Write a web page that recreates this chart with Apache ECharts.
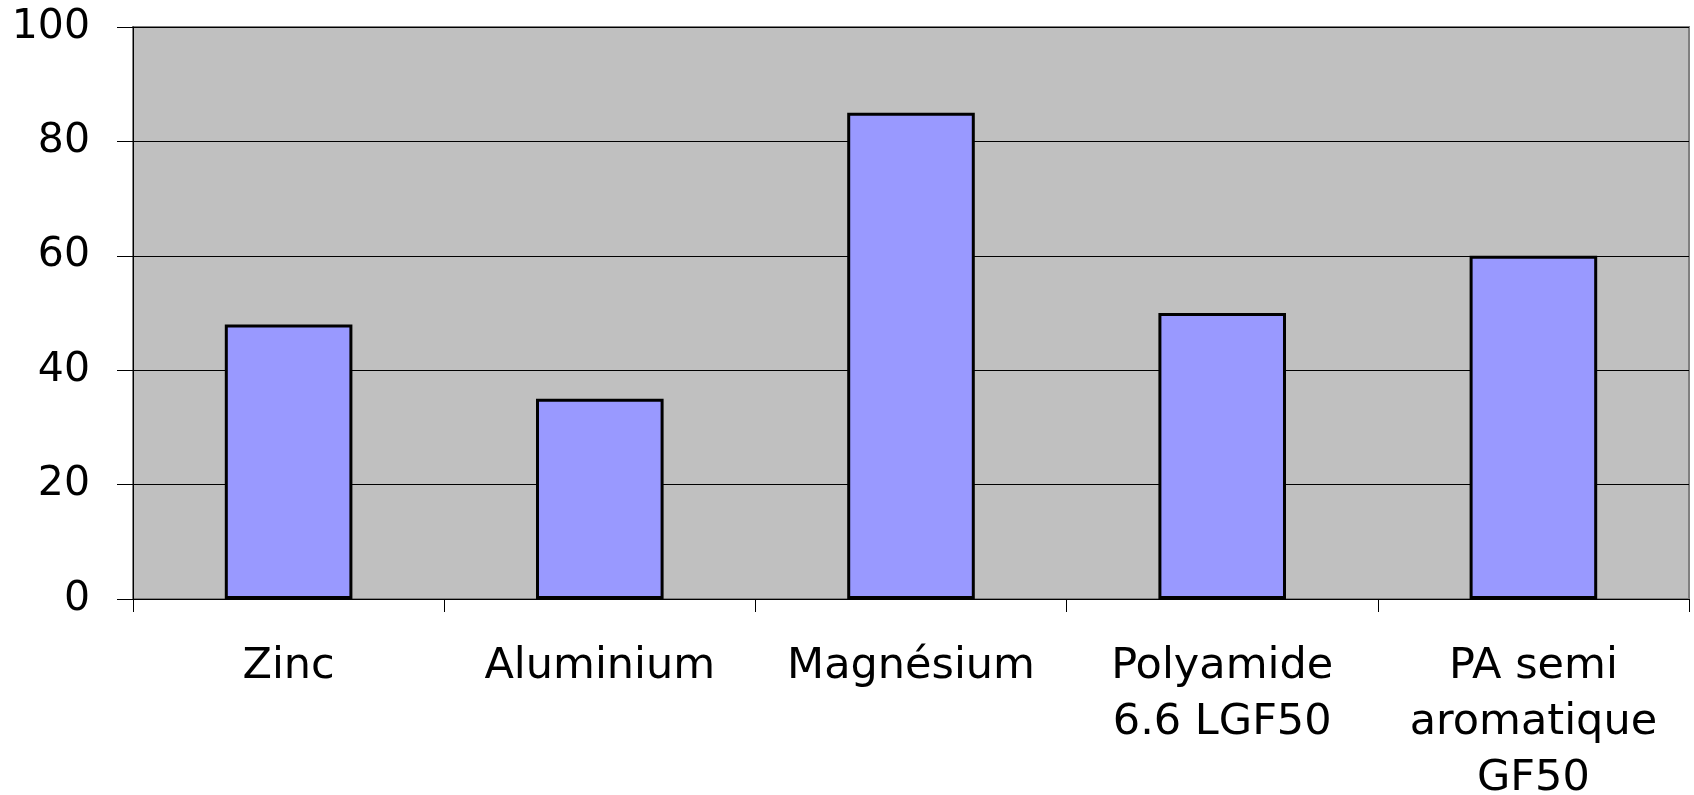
<!DOCTYPE html>
<html>
<head>
<meta charset="utf-8">
<script src="https://cdn.jsdelivr.net/npm/echarts@6/dist/echarts.min.js"></script>
<style>
    html, body { margin: 0; padding: 0; background: #fff; }
    #chart { width: 1694px; height: 795px; }
</style>
</head>
<body>
<div id="chart"></div>
<script>
// Chart data
const categories = ['Zinc', 'Aluminium', 'Magnésium', 'Polyamide\n6.6 LGF50', 'PA semi\naromatique\nGF50'];
const values = [48, 35, 85, 50, 60];
const yTicks = [0, 20, 40, 60, 80, 100];

const chart = echarts.init(document.getElementById('chart'));

const options = {
    animation: false,
    grid: {
        left: 133,
        right: 5,
        top: 27,
        bottom: 196,
        outerBoundsMode: 'none',
        containLabel: false,
        show: true,
        backgroundColor: '#C0C0C0',
        borderColor: '#808080',
        borderWidth: 2
    },
    xAxis: {
        type: 'category',
        data: categories,
        axisLine: { lineStyle: { color: '#000', width: 1 } },
        axisTick: {
            show: true,
            length: 13,
            lineStyle: { color: '#000', width: 1 }
        },
        axisLabel: {
            interval: 0,
            margin: 40,
            color: '#000',
            fontFamily: 'DejaVu Sans',
            fontSize: 43,
            lineHeight: 56
        }
    },
    yAxis: {
        type: 'value',
        min: yTicks[0],
        max: yTicks[yTicks.length - 1],
        interval: 20,
        axisLine: { show: true, lineStyle: { color: '#000', width: 1 } },
        axisTick: {
            show: true,
            length: 16,
            lineStyle: { color: '#000', width: 1 }
        },
        splitLine: { lineStyle: { color: '#000', width: 1 } },
        axisLabel: {
            margin: 43,
            color: '#000',
            fontFamily: 'DejaVu Sans',
            fontSize: 41
        }
    },
    series: [
        {
            type: 'bar',
            data: values,
            barWidth: '41%',
            itemStyle: {
                color: '#9999FF',
                borderColor: '#000',
                borderWidth: 3
            }
        }
    ]
};

chart.setOption(options);
</script>
</body>
</html>
